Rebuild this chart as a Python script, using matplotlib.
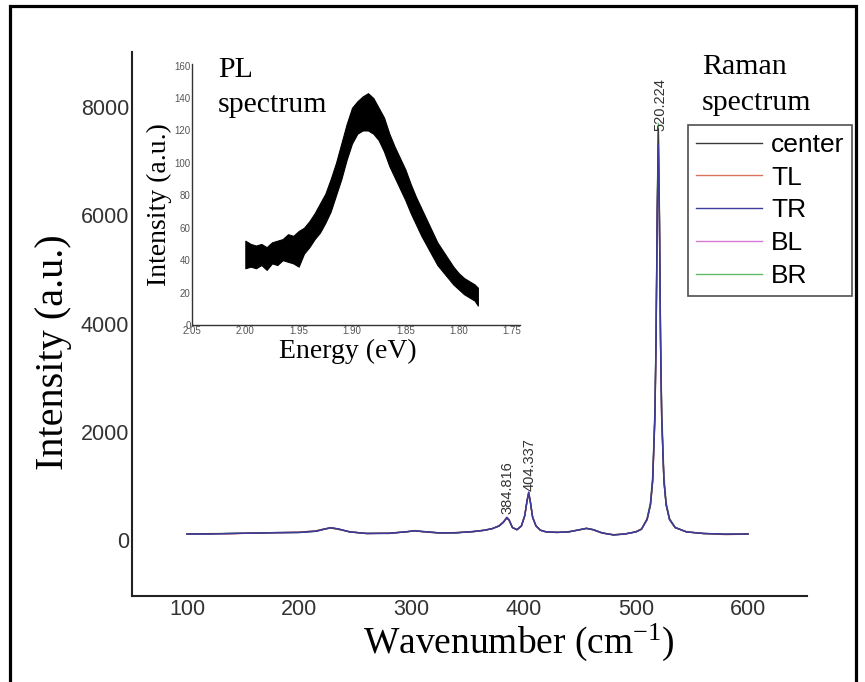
import matplotlib
matplotlib.use("Agg")
import matplotlib.pyplot as plt
from matplotlib.patches import Rectangle

plt.rcParams['mathtext.fontset'] = 'custom'
plt.rcParams['mathtext.rm'] = 'Liberation Serif'
plt.rcParams['mathtext.it'] = 'Liberation Serif:italic'

# ---------------- Raman data ----------------
wavenumber = [100, 120, 140, 160, 180, 200, 215, 222, 228, 235, 245, 260, 280, 295, 303,
              310, 325, 340, 355, 365, 372, 378, 382, 385, 387, 390, 394, 398, 401, 403,
              404.5, 406, 408, 411, 415, 420, 430, 440, 450, 456, 462, 470, 480, 490, 500,
              505, 510, 513, 515, 517, 518, 519, 520, 521, 522, 523, 525, 527, 530, 535,
              545, 560, 580, 600]

center = [110, 115, 120, 128, 135, 140, 165, 200, 225, 200, 150, 120, 125, 150, 170,
          155, 130, 135, 155, 180, 210, 260, 330, 410, 370, 230, 190, 260, 450, 720,
          870, 700, 420, 260, 180, 150, 140, 150, 190, 215, 190, 130, 95, 110, 150,
          200, 380, 650, 1100, 2300, 3700, 6000, 7600, 6000, 3700, 2300, 1100, 650, 380, 230,
          150, 120, 105, 110]
tl = [105, 118, 115, 130, 132, 145, 170, 205, 220, 195, 155, 118, 128, 148, 175,
      150, 128, 138, 150, 185, 205, 265, 335, 400, 365, 235, 185, 265, 445, 710,
      860, 690, 430, 255, 185, 145, 138, 155, 185, 220, 185, 125, 100, 105, 155,
      205, 370, 640, 1080, 2250, 3650, 5900, 7500, 5950, 3650, 2250, 1080, 640, 370, 225,
      155, 118, 100, 108]
tr = [112, 110, 122, 125, 138, 138, 160, 195, 228, 205, 148, 122, 120, 152, 168,
      158, 132, 130, 158, 178, 212, 255, 325, 415, 372, 228, 192, 255, 455, 725,
      880, 705, 415, 262, 178, 152, 142, 148, 192, 212, 192, 132, 92, 112, 148,
      198, 385, 660, 1120, 2350, 3750, 5950, 7300, 5900, 3600, 2280, 1090, 655, 385, 232,
      148, 122, 108, 112]
bl = [108, 113, 118, 132, 133, 142, 168, 202, 230, 198, 152, 119, 126, 151, 172,
      153, 129, 136, 153, 182, 208, 262, 340, 425, 380, 232, 188, 262, 460, 730,
      890, 710, 425, 258, 182, 148, 139, 152, 188, 218, 188, 128, 97, 108, 152,
      202, 375, 645, 1090, 2280, 3680, 5800, 7200, 5850, 3620, 2260, 1085, 645, 375, 228,
      152, 119, 103, 109]
br = [109, 116, 121, 127, 136, 141, 163, 198, 222, 202, 149, 121, 124, 149, 169,
      156, 131, 134, 156, 179, 209, 258, 328, 405, 368, 229, 191, 258, 448, 715,
      865, 695, 418, 261, 179, 151, 141, 149, 191, 213, 191, 131, 94, 111, 149,
      199, 400, 700, 1200, 2450, 3850, 6100, 7700, 6150, 3850, 2450, 1200, 700, 400, 235,
      149, 121, 106, 111]
series_names = ['center', 'TL', 'TR', 'BL', 'BR']
series_colors = ['#3a3a3a', '#d9735e', '#3c3c9c', '#d27ad6', '#62bb6a']
series_z = [4, 2, 5, 3, 1]
peak_positions = [385.2, 405.7, 521.5]
peak_heights = [480, 910, 7560]
peak_labels = ['384.816', '404.337', '520.224']

# ---------------- PL data (noise band envelope) ----------------
energy = [2.000, 1.995, 1.990, 1.985, 1.980, 1.975, 1.970, 1.965, 1.960, 1.955, 1.950,
          1.945, 1.940, 1.935, 1.930, 1.925, 1.920, 1.915, 1.910, 1.905, 1.900, 1.895,
          1.890, 1.885, 1.880, 1.875, 1.870, 1.865, 1.860, 1.855, 1.850, 1.845, 1.840,
          1.835, 1.830, 1.825, 1.820, 1.815, 1.810, 1.805, 1.800, 1.795, 1.790, 1.785, 1.782]
pl_low = [35, 36, 35, 37, 34, 38, 37, 40, 39, 38, 36, 44, 48, 53, 57, 63, 70, 80, 90, 102,
          112, 118, 120, 120, 118, 114, 107, 98, 91, 84, 77, 69, 62, 55, 49, 43, 37, 33, 29,
          25, 22, 19, 17, 15, 12]
pl_high = [52, 50, 49, 50, 48, 51, 52, 53, 56, 55, 58, 60, 64, 69, 75, 81, 90, 100, 112,
           124, 134, 138, 141, 143, 140, 134, 128, 118, 110, 103, 96, 87, 79, 72, 65, 58, 51,
           46, 41, 36, 32, 29, 27, 25, 23]
pl_xticks = [2.05, 2.00, 1.95, 1.90, 1.85, 1.80, 1.75]
pl_yticks = [0, 20, 40, 60, 80, 100, 120, 140, 160]

W, H = 865, 682
fig = plt.figure(figsize=(W / 100, H / 100), dpi=100)

# outer frame
fig.patches.append(Rectangle((10 / W, -0.05), 846 / W, 1 - 6 / H + 0.05,
                             transform=fig.transFigure, fill=False,
                             edgecolor='black', linewidth=2.3, zorder=0))

# ---------------- main axes ----------------
ax = fig.add_axes([132 / W, 1 - 596 / H, 675 / W, 544 / H])
for name, ys, c, z in zip(series_names, [center, tl, tr, bl, br], series_colors, series_z):
    ax.plot(wavenumber, ys, color=c, lw=1.0, label=name, zorder=z)
ax.set_xlim(51, 652.5)
ax.set_ylim(-1035, 9017)
ax.set_xticks([100, 200, 300, 400, 500, 600])
ax.set_yticks([0, 2000, 4000, 6000, 8000])
ax.spines['top'].set_visible(False)
ax.spines['right'].set_visible(False)
for s in ['left', 'bottom']:
    ax.spines[s].set_linewidth(1.5)
    ax.spines[s].set_color('#222222')
ax.tick_params(length=0, pad=2, labelsize=15.5, labelcolor='#333333')
for lab in ax.get_xticklabels() + ax.get_yticklabels():
    lab.set_fontfamily('Liberation Sans')
ax.set_xlabel('Wavenumber (cm$^{\\mathrm{-1}}$)', fontfamily='Liberation Serif', fontsize=27)
ax.xaxis.set_label_coords((519 - 132) / 675, -0.048)
ax.set_ylabel('Intensity (a.u.)', fontfamily='Liberation Serif', fontsize=29)
ax.yaxis.set_label_coords((72 - 132) / 675, (596 - 352) / 544)

for px, py, t in zip(peak_positions, peak_heights, peak_labels):
    ax.text(px, py, t, rotation=90, ha='center', va='bottom', fontsize=10.5,
            fontfamily='Liberation Sans', color='#333333', zorder=6)

leg = ax.legend(loc='upper left', bbox_to_anchor=(688 / W, 1 - 125 / H),
                bbox_transform=fig.transFigure, prop={'family': 'Liberation Sans', 'size': 19},
                frameon=True, fancybox=False, edgecolor='#222222', handlelength=2.5,
                handletextpad=0.35, labelspacing=0.33, borderpad=0.3, borderaxespad=0)
leg.get_frame().set_linewidth(1.2)
for l in leg.get_lines():
    l.set_linewidth(1.0)

fig.text(702 / W, 1 - 110 / H, 'Raman\nspectrum', fontfamily='Liberation Serif', fontsize=21.5,
         ha='left', va='baseline', linespacing=1.5)

# ---------------- inset ----------------
ins = fig.add_axes([192 / W, 1 - 325 / H, 328 / W, 261 / H])
ins.fill_between(energy, pl_low, pl_high, color='black', lw=0.8, edgecolor='black')
ins.set_xlim(2.05, 1.7425)
ins.set_ylim(0, 161)
ins.set_xticks(pl_xticks)
ins.set_xticklabels(['%.2f' % v for v in pl_xticks])
ins.set_yticks(pl_yticks)
ins.spines['top'].set_visible(False)
ins.spines['right'].set_visible(False)
for s in ['left', 'bottom']:
    ins.spines[s].set_linewidth(1.0)
    ins.spines[s].set_color('#333333')
ins.tick_params(length=0, pad=1, labelsize=7, labelcolor='#555555')
for lab in ins.get_xticklabels() + ins.get_yticklabels():
    lab.set_fontfamily('Liberation Sans')
ins.set_xlabel('Energy (eV)', fontfamily='Liberation Serif', fontsize=20)
ins.xaxis.set_label_coords((348 - 192) / 328, -0.052)
ins.set_ylabel('Intensity (a.u.)', fontfamily='Liberation Serif', fontsize=20)
ins.yaxis.set_label_coords((172 - 192) / 328, (325 - 205) / 261)
ins.patch.set_alpha(0)
fig.text(218 / W, 1 - 112 / H, 'PL\nspectrum', fontfamily='Liberation Serif', fontsize=21.5,
         ha='left', va='baseline', linespacing=1.45)

fig.savefig('out.png', dpi=100)
